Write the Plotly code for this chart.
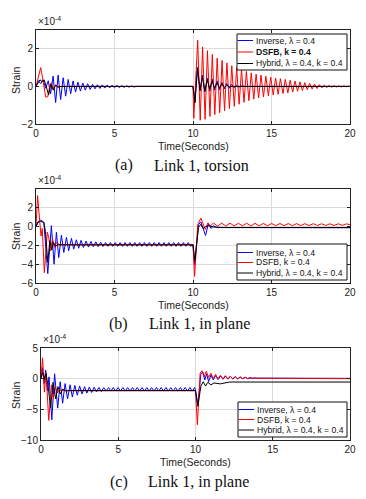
import plotly.graph_objects as go

# ---------------- data (strain in units of 1e-4, time in seconds) ----------------
X_TICKS = [0, 5, 10, 15, 20]
Y_TICKS_A = [-2, 0, 2]
Y_TICKS_B = [-6, -4, -2, 0, 2]
Y_TICKS_C = [-10, -5, 0, 5]

SERIES_NAMES = ["Inverse, λ = 0.4", "DSFB, k = 0.4", "Hybrid, λ = 0.4, k = 0.4"]
CAPTIONS = [("(a)", "Link 1, torsion"), ("(b)", "Link 1, in plane"), ("(c)", "Link 1, in plane")]

# ---- (a) Link 1, torsion ----
INV_A_T = [0, 0.15, 0.3, 0.45, 0.62, 0.78, 0.93, 1.09, 1.25, 1.41, 1.57, 1.73, 1.89, 2.05, 2.21,
           2.36, 2.52, 2.67, 2.83, 2.98, 3.14, 3.29, 3.45, 3.6, 3.76, 3.91, 4.07, 4.22, 4.38, 4.53,
           4.69, 4.84, 5.0, 5.15, 5.31, 5.46, 5.62, 5.77, 5.93, 6.08, 6.24, 6.4, 10.0, 10.12, 10.3,
           10.45, 10.6, 10.76, 10.91, 11.07, 11.22, 11.38, 11.53, 11.69, 11.84, 12.0, 12.15, 12.31,
           12.46, 12.62, 12.77, 12.93, 13.1, 13.3, 20]
INV_A_Y = [0, 0.3, 0.15, 0.35, -0.1, 0.3, -0.4, 0.55, -0.86, 0.6, -0.7, 0.46, -0.52, 0.37, -0.39,
           0.29, -0.3, 0.23, -0.25, 0.18, -0.2, 0.14, -0.16, 0.11, -0.13, 0.09, -0.11, 0.08, -0.09, 0.07,
           -0.08, 0.06, -0.07, 0.05, -0.06, 0.04, -0.05, 0.03, -0.04, 0.02, -0.03, 0, 0, -0.75, 1.0,
           -0.25, 0.6, -0.3, 0.45, -0.25, 0.4, -0.2, 0.3, -0.18, 0.22, -0.14, 0.16, -0.1,
           0.11, -0.07, 0.07, -0.04, 0.03, 0, 0]

DSFB_A_T = [0, 0.1, 0.3, 0.45, 0.62, 0.75, 0.88, 0.97, 1.1, 1.25, 1.4, 10.0, 10.05,
            10.30, 10.46, 10.61, 10.77, 10.92, 11.08, 11.23, 11.39, 11.54, 11.70, 11.85, 12.01,
            12.16, 12.32, 12.47, 12.63, 12.78, 12.94, 13.09, 13.25, 13.40, 13.56, 13.71, 13.87,
            14.02, 14.18, 14.33, 14.49, 14.64, 14.80, 14.95, 15.11, 15.26, 15.42, 15.57, 15.73,
            15.88, 16.04, 16.19, 16.35, 16.50, 16.66, 16.81, 16.97, 17.12, 17.28, 17.43, 17.59,
            17.74, 17.90, 18.05, 18.21, 18.36, 18.52, 18.67, 18.83, 18.98, 19.14, 19.29, 19.45,
            19.60, 19.76, 19.91, 20.0]
DSFB_A_Y = [0, 0.3, 1.0, 0.3, -0.57, -0.55, 0.05, 0.2, -0.12, 0.08, 0, 0, -1.7,
            2.45, -1.8, 2.1, -1.75, 1.9, -1.6, 1.7, -1.5, 1.5, -1.4, 1.38, -1.3,
            1.25, -1.18, 1.1, -1.06, 1.0, -0.95, 0.9, -0.85, 0.8, -0.76, 0.72, -0.68,
            0.65, -0.62, 0.6, -0.56, 0.54, -0.5, 0.49, -0.46, 0.45, -0.42, 0.41, -0.38,
            0.37, -0.35, 0.33, -0.3, 0.28, -0.26, 0.24, -0.22, 0.2, -0.18, 0.16, -0.14,
            0.12, -0.11, 0.09, -0.08, 0.07, -0.06, 0.05, -0.045, 0.04, -0.035, 0.03, -0.03,
            0.025, -0.02, 0.02, 0]

HYB_A_T = [0, 0.12, 0.25, 0.4, 0.52, 0.65, 0.8, 0.95, 1.1, 1.25, 1.4, 1.6, 10.0, 10.13, 10.28,
           10.44, 10.6, 10.75, 10.91, 11.06, 11.22, 11.37, 11.53, 11.68, 11.84, 11.99, 12.15,
           12.3, 12.5, 20]
HYB_A_Y = [0, 0.2, 0.35, 0.25, 0.35, 0.0, -0.45, 0.12, -0.2, 0.06, -0.05, 0, 0, -0.88, 1.0,
           -0.2, 0.5, -0.25, 0.35, -0.15, 0.28, -0.1, 0.2, -0.08, 0.14, -0.05, 0.08,
           -0.03, 0, 0]

# ---- (b) Link 1, in plane ----
INV_B_T = [0, 0.15, 0.3, 0.5, 0.75, 0.98, 1.15, 1.3, 1.45, 1.62, 1.77, 1.94, 2.08, 2.26, 2.4,
           2.57, 2.72, 2.87, 3.02, 3.19, 3.34, 3.5, 3.65, 3.81, 3.96, 4.12, 4.27,
           4.43, 4.58, 4.74, 4.89, 5.05, 5.2, 5.36, 5.51, 5.67, 5.82, 5.98, 6.13, 6.29, 6.44,
           6.6, 6.75, 6.91, 7.06, 7.22, 7.37, 7.53, 7.68, 7.84, 7.99, 8.15, 8.3, 8.46, 8.61,
           8.77, 8.92, 9.08, 9.23, 9.39, 9.54, 9.7, 9.85,
           10.0, 10.1, 10.35, 10.5, 10.62, 10.8, 10.98, 11.15, 11.3, 11.5, 12.0, 20]
INV_B_Y = [0, 0.5, 0.7, 0.45, -5.0, 0.1, -4.0, -0.6, -3.3, -0.9, -2.75, -1.15, -2.57, -1.25, -2.4,
           -1.4, -2.3, -1.46, -2.22, -1.54, -2.18, -1.58, -2.15, -1.62, -2.13, -1.66, -2.12,
           -1.7, -2.1, -1.7, -2.1, -1.7, -2.1, -1.7, -2.1, -1.7, -2.1, -1.7, -2.1, -1.7, -2.1,
           -1.7, -2.1, -1.7, -2.1, -1.7, -2.1, -1.7, -2.1, -1.7, -2.1, -1.7, -2.1, -1.7, -2.1,
           -1.7, -2.1, -1.7, -2.1, -1.7, -2.1, -1.7, -2.1,
           -1.9, -4.1, 0.2, 0.5, 0.0, -0.95, 0.3, -0.2, 0.1, -0.1, -0.1, -0.12]

DSFB_B_T = [0, 0.1, 0.25, 0.32, 0.4, 0.53, 0.72, 0.82, 0.92, 1.05, 1.18, 1.3, 1.45, 1.6,
            10.0, 10.1, 10.3, 10.5, 10.62, 10.78, 10.95, 11.1,
            11.3, 11.56, 11.83, 12.09, 12.36, 12.62, 12.89, 13.15, 13.42, 13.68, 13.95, 14.21,
            14.48, 14.74, 15.01, 15.27, 15.54, 15.8, 16.07, 16.33, 16.6, 16.86, 17.13, 17.39,
            17.66, 17.92, 18.19, 18.45, 18.72, 18.98, 19.25, 19.51, 19.78, 20.0]
DSFB_B_Y = [0, 3.3, 0.3, -1.0, -0.2, -4.9, -0.6, -1.2, -2.6, -1.3, -2.2, -1.7, -2.0, -1.9,
            -1.9, -5.3, 0.2, 0.9, 0.4, -0.3, 0.4, 0.05,
            0.38, 0.05, 0.37, 0.06, 0.36, 0.07, 0.35, 0.08, 0.35, 0.08, 0.34, 0.09,
            0.34, 0.09, 0.33, 0.1, 0.33, 0.1, 0.32, 0.1, 0.32, 0.11, 0.31, 0.11,
            0.31, 0.12, 0.3, 0.12, 0.3, 0.12, 0.3, 0.13, 0.29, 0.2]

HYB_B_T = [0, 0.12, 0.3, 0.5, 0.6, 0.75, 0.88, 1.0, 1.12, 1.25, 1.4, 1.6,
           10.0, 10.12, 10.35, 10.5, 10.65, 10.8, 11.0, 11.3, 12.0, 20]
HYB_B_Y = [0, 0.5, 0.55, 0.45, -0.5, -3.8, -1.5, -2.5, -1.7, -2.1, -1.85, -1.95,
           -1.95, -3.6, -0.1, 0.25, -0.2, 0.0, 0.1, -0.05, -0.1, -0.1]

# ---- (c) Link 1, in plane ----
INV_C_T = [0, 0.1, 0.2, 0.3, 0.42, 0.52, 0.7, 0.88, 1.08, 1.24, 1.4, 1.56, 1.72, 1.88, 2.03,
           2.19, 2.35, 2.5, 2.66, 2.82, 2.97, 3.13, 3.28, 3.44, 3.59, 3.75, 3.9,
           4.06, 4.21, 4.37, 4.52, 4.68, 4.83, 4.99, 5.14, 5.3, 5.45, 5.61, 5.76, 5.92, 6.07,
           6.23, 6.38, 6.54, 6.69, 6.85, 7.0, 7.16, 7.31, 7.47, 7.62, 7.78, 7.93, 8.09, 8.24,
           8.4, 8.55, 8.71, 8.86, 9.02, 9.17, 9.33, 9.48, 9.64, 9.79, 9.95,
           10.0, 10.15, 10.35, 10.48, 10.6, 10.72, 10.85, 11.0, 11.15, 11.3, 11.46, 11.62,
           11.78, 11.94, 12.1, 12.26, 12.42, 12.58, 12.74, 12.9, 13.06, 13.22, 13.38, 13.6, 20]
INV_C_Y = [0, 1.8, -0.8, 1.4, -2.0, 0.3, -6.7, 0.8, -4.8, -0.5, -4.0, -0.8, -3.3, -1.0, -3.0,
           -1.1, -2.7, -1.2, -2.5, -1.3, -2.35, -1.35, -2.25, -1.4, -2.15, -1.42, -2.1,
           -1.45, -2.02, -1.45, -2.02, -1.45, -2.02, -1.45, -2.02, -1.45, -2.02, -1.45, -2.02,
           -1.45, -2.02, -1.45, -2.02, -1.45, -2.02, -1.45, -2.02, -1.45, -2.02, -1.45, -2.02,
           -1.45, -2.02, -1.45, -2.02, -1.45, -2.02, -1.45, -2.02, -1.45, -2.02, -1.45, -2.02,
           -1.45, -2.02, -1.45,
           -1.9, -4.2, 0.8, 1.1, -0.2, 0.8, -0.5, 0.6, -0.2, 0.5, -0.15, 0.45,
           -0.1, 0.4, -0.08, 0.35, -0.05, 0.3, -0.03, 0.25, 0.0, 0.2, 0.02, 0.1, 0.05]

DSFB_C_T = [0, 0.1, 0.22, 0.33, 0.5, 0.68, 0.8, 0.92, 1.05, 1.2, 1.35,
            10.0, 10.12, 10.3, 10.42, 10.55, 10.7, 10.85, 11.0, 11.15, 11.3, 11.45,
            11.61, 11.77, 11.93, 12.09, 12.25, 12.41, 12.57, 12.73, 12.89, 13.05, 13.21, 13.37,
            13.53, 13.69, 13.85, 14.01, 14.3, 20]
DSFB_C_Y = [0, 3.4, -2.2, 1.0, -6.8, -1.0, -3.2, -1.3, -2.3, -1.8, -1.95,
            -1.95, -7.5, 0.9, 1.3, 0.3, 1.2, 0.2, 0.9, 0.0, 0.7, -0.05,
            0.55, -0.05, 0.5, -0.05, 0.42, -0.03, 0.36, -0.02, 0.3, 0.0, 0.25, 0.0,
            0.2, 0.0, 0.15, 0.02, 0.05, 0.0]

HYB_C_T = [0, 0.1, 0.22, 0.32, 0.45, 0.62, 0.78, 0.95, 1.1, 1.25, 1.4, 1.6, 1.8,
           10.0, 10.15, 10.35, 10.5, 10.65, 10.8, 11.0, 11.2, 11.6, 12.2, 20]
HYB_C_Y = [0, 1.0, 0.0, 0.8, -1.0, -4.8, -0.6, -3.3, -1.3, -2.5, -1.7, -2.0, -1.95,
           -1.95, -4.5, -1.2, -0.5, -1.2, -0.6, -1.0, -0.7, -0.85, -0.55, -0.55]

PANELS = [
    dict(series=[(INV_A_T, INV_A_Y), (DSFB_A_T, DSFB_A_Y), (HYB_A_T, HYB_A_Y)],
         yrange=[-2, 3], yticks=Y_TICKS_A),
    dict(series=[(INV_B_T, INV_B_Y), (DSFB_B_T, DSFB_B_Y), (HYB_B_T, HYB_B_Y)],
         yrange=[-6, 4], yticks=Y_TICKS_B),
    dict(series=[(INV_C_T, INV_C_Y), (DSFB_C_T, DSFB_C_Y), (HYB_C_T, HYB_C_Y)],
         yrange=[-10, 5], yticks=Y_TICKS_C),
]
for p in PANELS:
    for t, y in p["series"]:
        assert len(t) == len(y), (len(t), len(y))

# ---------------- layout (window pixels) ----------------
PAGE_W, PAGE_H = 366, 499
OFFSET = 8                      # default page margin around the plot div
W, H = PAGE_W - OFFSET, PAGE_H - OFFSET
COLORS = ["#0000ff", "#ff0000", "#000000"]
BOXES = [  # left, right, top, bottom of each plot area (window pixels)
    (36, 350, 30, 124),
    (36, 350, 189, 283),
    (41, 350, 348, 440),
]
LEGEND_BOXES = [(237, 347, 34, 70, [40.5, 52, 63.5]),
                (237, 347, 244, 280, [252.5, 262.5, 273]),
                (238, 347, 402, 437, [409.5, 419.5, 430])]
TIME_TITLE_Y = [146, 305, 462]
STRAIN_Y = [80, 236, 395]
CAPTION_Y = [165, 324, 482]
CAPTION_TAG_X = [124, 119, 118.5]
CAPTION_TEXT_X = [152, 146.5, 145.5]

SANS = "Liberation Sans, Arial, sans-serif"
SERIF = "Liberation Serif, Times New Roman, serif"


def fx(x):
    return (x - OFFSET) / W


def fy(y):
    return 1 - (y - OFFSET) / H


fig = go.Figure()
annotations = []
shapes = []

for i, (panel, box) in enumerate(zip(PANELS, BOXES)):
    sfx = "" if i == 0 else str(i + 1)
    l, r, t, b = box
    for (tt, yy), col in zip(panel["series"], COLORS):
        fig.add_trace(go.Scatter(x=tt, y=yy, mode="lines", line=dict(color=col, width=1),
                                 xaxis="x" + sfx, yaxis="y" + sfx, showlegend=False,
                                 hoverinfo="skip"))
    axis_common = dict(showgrid=True, gridcolor="#dcdcdc", gridwidth=1, showline=True,
                       linecolor="#222222", linewidth=1, mirror="ticks", ticks="inside",
                       ticklen=3, tickcolor="#222222", zeroline=False, automargin=False,
                       tickfont=dict(family=SANS, size=10, color="#222222"))
    fig.layout["xaxis" + sfx] = dict(domain=[fx(l), fx(r)], range=[0, 20], tickvals=X_TICKS,
                                     anchor="y" + sfx, **axis_common)
    fig.layout["yaxis" + sfx] = dict(domain=[fy(b), fy(t)], range=panel["yrange"],
                                     tickvals=panel["yticks"], anchor="x" + sfx, **axis_common)

    # exponent label
    annotations.append(dict(text="×10<sup>-4</sup>", x=fx(l), y=fy(t - 1), xref="paper",
                            yref="paper", xanchor="left", yanchor="bottom", showarrow=False,
                            font=dict(family=SANS, size=10, color="#222222")))
    # axis titles
    annotations.append(dict(text="Time(Seconds)", x=fx((l + r) / 2), y=fy(TIME_TITLE_Y[i]),
                            xref="paper", yref="paper", xanchor="center", yanchor="middle",
                            showarrow=False, font=dict(family=SANS, size=10.5, color="#222222")))
    annotations.append(dict(text="Strain", x=fx(16), y=fy(STRAIN_Y[i]), xref="paper",
                            yref="paper", xanchor="center", yanchor="middle", textangle=-90,
                            showarrow=False, font=dict(family=SANS, size=10.5, color="#222222")))
    # caption
    tag, cap = CAPTIONS[i]
    annotations.append(dict(text=tag, x=fx(CAPTION_TAG_X[i]), y=fy(CAPTION_Y[i]), xref="paper",
                            yref="paper", xanchor="center", yanchor="middle", showarrow=False,
                            font=dict(family=SERIF, size=16, color="#111111")))
    annotations.append(dict(text=cap, x=fx(CAPTION_TEXT_X[i]), y=fy(CAPTION_Y[i]), xref="paper",
                            yref="paper", xanchor="left", yanchor="middle", showarrow=False,
                            font=dict(family=SERIF, size=16, color="#111111")))

    # legend box
    lx0, lx1, ly0, ly1, rows = LEGEND_BOXES[i]
    shapes.append(dict(type="rect", xref="paper", yref="paper", x0=fx(lx0), x1=fx(lx1),
                       y0=fy(ly1), y1=fy(ly0), fillcolor="white",
                       line=dict(color="#111111", width=1), layer="above"))
    for j, (name, col) in enumerate(zip(SERIES_NAMES, COLORS)):
        ry = rows[j]
        shapes.append(dict(type="line", xref="paper", yref="paper", x0=fx(lx0 + 0.5),
                           x1=fx(lx0 + 16), y0=fy(ry), y1=fy(ry),
                           line=dict(color=col, width=1), layer="above"))
        label = name
        if i == 0 and j == 1:
            label = "<b>" + name + "</b>"
        annotations.append(dict(text=label, x=fx(lx0 + 16.5), y=fy(ry), xref="paper",
                                yref="paper", xanchor="left", yanchor="middle", showarrow=False,
                                font=dict(family=SANS, size=8.6, color="#111111")))

fig.update_layout(width=W, height=H, margin=dict(l=0, r=0, t=0, b=0),
                  paper_bgcolor="white", plot_bgcolor="white", showlegend=False,
                  annotations=annotations, shapes=shapes)

fig.write_html("out.html")
